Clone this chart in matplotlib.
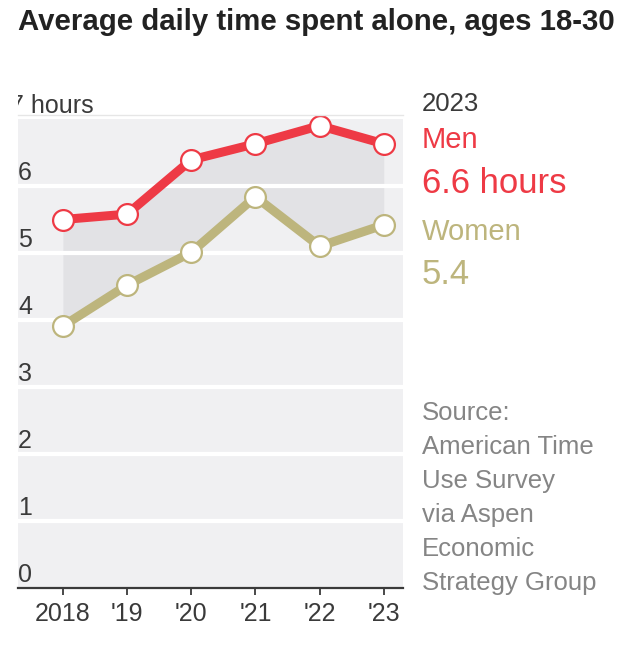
import matplotlib.pyplot as plt
from matplotlib.patches import Rectangle
from matplotlib.transforms import blended_transform_factory


years = [2018, 2019, 2020, 2021, 2022, 2023]
year_labels = ["2018", "'19", "'20", "'21", "'22", "'23"]

men_hours = [5.50, 5.58, 6.39, 6.63, 6.90, 6.63]
women_hours = [3.91, 4.52, 5.01, 5.84, 5.10, 5.42]

y_ticks = [0, 1, 2, 3, 4, 5, 6, 7]
y_labels = ["0", "1", "2", "3", "4", "5", "6", "7 hours"]

source_lines = [
    "Source:",
    "American Time",
    "Use Survey",
    "via Aspen",
    "Economic",
    "Strategy Group",
]

MEN_COLOR = "#ee3a45"
WOMEN_COLOR = "#bdb57d"
BG_COLOR = "#f0f0f2"
FILL_COLOR = "#e2e2e5"
TEXT_COLOR = "#3a3a3a"
SOURCE_COLOR = "#858585"

plt.rcParams["font.family"] = ["Liberation Sans", "DejaVu Sans"]

W, H = 628, 652
fig = plt.figure(figsize=(W / 100, H / 100), dpi=100)

# axes box in pixels: left 18, right 403, top 119, bottom 588
ax = fig.add_axes([18 / W, (H - 588) / H, 385 / W, (588 - 119) / H])
ax.set_facecolor(BG_COLOR)
ax.set_xlim(2017.30, 2023.30)
ax.set_ylim(0, 7)

# shaded gap between the two series
ax.fill_between(years, women_hours, men_hours, color=FILL_COLOR, zorder=1, lw=0)

# white gridlines
for y in y_ticks[1:-1]:
    ax.axhline(y, color="white", lw=3, zorder=1.5)

ax.plot(
    years, women_hours, color=WOMEN_COLOR, lw=6.5,
    marker="o", ms=15, mfc="white", mec=WOMEN_COLOR, mew=1.6,
    zorder=3, clip_on=False, solid_capstyle="round"
)
ax.plot(
    years, men_hours, color=MEN_COLOR, lw=6.5,
    marker="o", ms=15, mfc="white", mec=MEN_COLOR, mew=1.6,
    zorder=4, clip_on=False, solid_capstyle="round"
)

for side in ["left", "right", "top"]:
    ax.spines[side].set_visible(False)
ax.spines["bottom"].set_color(TEXT_COLOR)
ax.spines["bottom"].set_linewidth(1.6)

ax.set_yticks([])
ax.set_xticks(years)
ax.set_xticklabels(year_labels, fontsize=18, color=TEXT_COLOR)
ax.tick_params(axis="x", length=5, width=1.3, color=TEXT_COLOR, pad=5)

# y labels sitting above each gridline
trans = blended_transform_factory(ax.transAxes, ax.transData)
for y, lab in zip(y_ticks, y_labels):
    x_off = 0 if y < 7 else -5.5
    t = ax.annotate(
        lab, xy=(0, y), xycoords=trans,
        xytext=(x_off, 4.3), textcoords="offset points",
        ha="left", va="baseline", fontsize=18,
        color=TEXT_COLOR, annotation_clip=False
    )
    if y == 7:
        t.set_clip_path(Rectangle((18 / W, 0), 1, 1, transform=fig.transFigure))

# faint line at the top of the panel
fig.add_artist(plt.Line2D([18 / W, 403 / W], [(H - 115) / H] * 2,
                          color="#e6e6e6", lw=1))

fig.text(18 / W, 1 - 22 / H, "Average daily time spent alone, ages 18-30",
         fontsize=21.2, fontweight="bold", color="#222222",
         ha="left", va="center")

tx = 422 / W
fig.text(tx, 1 - 104 / H, "2023", fontsize=18.5, color=TEXT_COLOR,
         va="center")
fig.text(tx, 1 - 140 / H, "Men", fontsize=21, color=MEN_COLOR,
         va="center")
fig.text(tx, 1 - 184 / H, "6.6 hours", fontsize=25, color=MEN_COLOR,
         va="center")
fig.text(tx, 1 - 232 / H, "Women", fontsize=21, color=WOMEN_COLOR,
         va="center")
fig.text(tx, 1 - 275 / H, "5.4", fontsize=25, color=WOMEN_COLOR,
         va="center")

for i, line in enumerate(source_lines):
    fig.text(tx, 1 - (413 + 34 * i) / H, line, fontsize=18.5,
             color=SOURCE_COLOR, va="center")

fig.savefig("out.png", dpi=100, facecolor="white")
